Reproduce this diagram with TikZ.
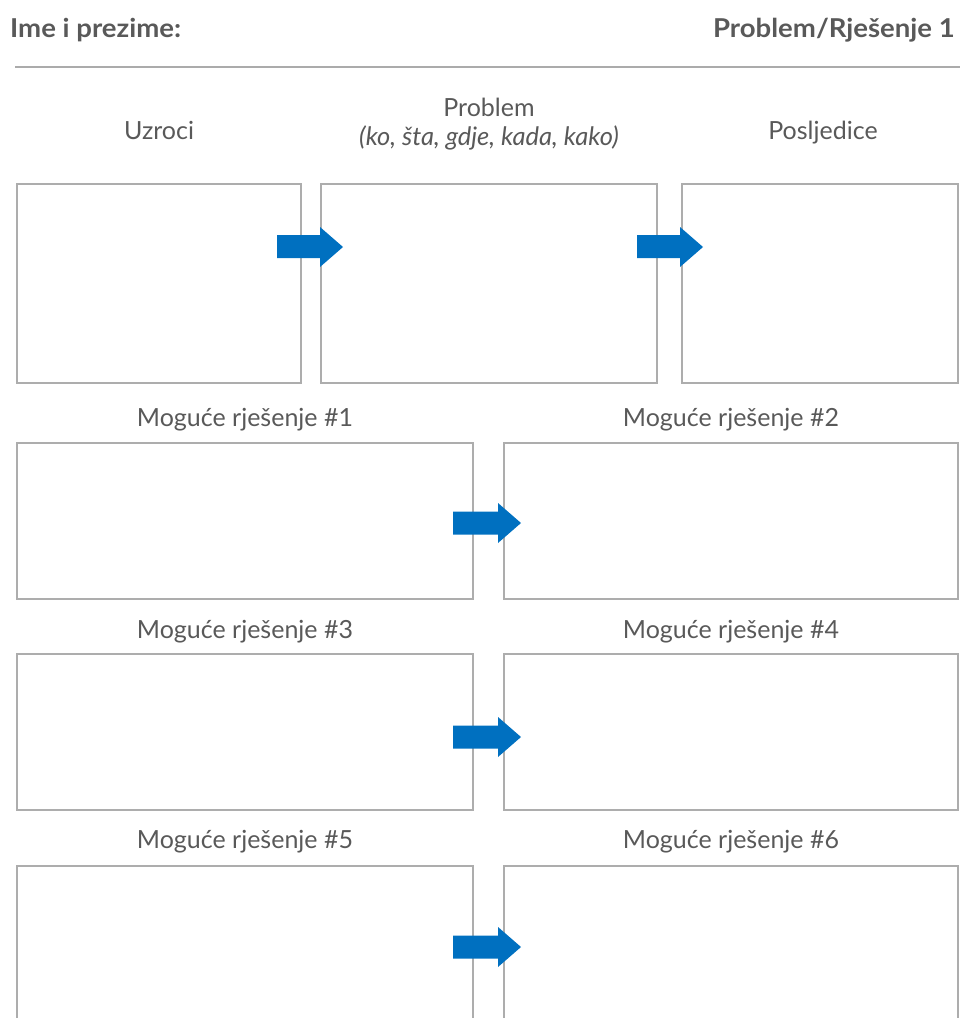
\documentclass[tikz,border=0pt]{standalone}
\usepackage{fontspec}
\setmainfont{Lato}
\definecolor{txtgray}{HTML}{595959}
\definecolor{boxgray}{HTML}{ADADAD}
\definecolor{rulegray}{HTML}{ABABAB}
\definecolor{arrowblue}{HTML}{0070C0}
\begin{document}
\begin{tikzpicture}[x=1pt,y=-1pt,
  cell/.style={draw=boxgray,line width=1.5pt},
  lbl/.style={text=txtgray,font=\fontsize{25}{30}\selectfont,anchor=base,inner sep=0pt},
  hdr/.style={text=txtgray,font=\bfseries\fontsize{26}{31}\selectfont,anchor=base,inner sep=0pt,xscale=1.06},
  blockarrow/.style={fill=arrowblue,draw=none}]
\useasboundingbox (0,0) rectangle (960,1018);
\clip (0,0) rectangle (960,1018);
% header
\node[hdr,anchor=base west] (name) at (10,37) {Ime i prezime:};
\node[hdr,anchor=base east] (title) at (955,37) {Problem/Rješenje 1};
\draw[rulegray,line width=2pt] (15,67) -- (960,67);
% top row
\node[lbl] (luz) at (159,139) {Uzroci};
\node[lbl] (lpr) at (489,116) {Problem};
\node[lbl,font=\itshape\fontsize{25.5}{30}\selectfont] (lpr2) at (489,145) {(ko, šta, gdje, kada, kako)};
\node[lbl] (lpo) at (823,139) {Posljedice};
\draw[cell] (17,184) rectangle (301,383);
\draw[cell] (321,184) rectangle (657,383);
\draw[cell] (682,184) rectangle (958,383);
% arrows top
\foreach \dx in {0,360}{
  \path[blockarrow] (277+\dx,235) -- (320+\dx,235) -- (320+\dx,227) -- (343+\dx,247)
     -- (320+\dx,267) -- (320+\dx,258) -- (277+\dx,258) -- cycle;
}
% solution rows
\node[lbl] (s1) at (245,426) {Moguće rješenje \#1};
\node[lbl] (s2) at (731,426) {Moguće rješenje \#2};
\node[lbl] (s3) at (245,638) {Moguće rješenje \#3};
\node[lbl] (s4) at (731,638) {Moguće rješenje \#4};
\node[lbl] (s5) at (245,848) {Moguće rješenje \#5};
\node[lbl] (s6) at (731,848) {Moguće rješenje \#6};
\draw[cell] (17,443) rectangle (473,599);
\draw[cell] (504,443) rectangle (958,599);
\draw[cell] (17,654) rectangle (473,810);
\draw[cell] (504,654) rectangle (958,810);
\draw[cell] (17,1030) -- (17,866) -- (473,866) -- (473,1030);
\draw[cell] (504,1030) -- (504,866) -- (958,866) -- (958,1030);
\foreach \cy in {523,737,947}{
  \path[blockarrow] (453,\cy-11.5) -- (498,\cy-11.5) -- (498,\cy-20) -- (521,\cy)
     -- (498,\cy+20) -- (498,\cy+11.5) -- (453,\cy+11.5) -- cycle;
}
\end{tikzpicture}
\end{document}
